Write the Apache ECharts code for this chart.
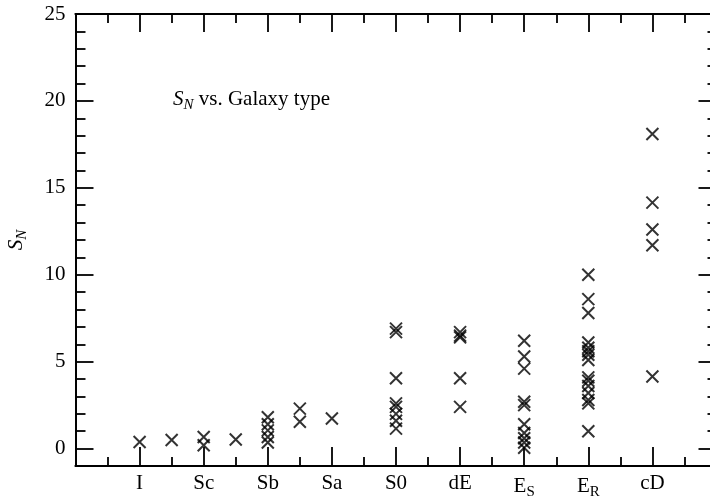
<!DOCTYPE html>
<html>
<head>
<meta charset="utf-8">
<script src="https://cdn.jsdelivr.net/npm/echarts@6/dist/echarts.min.js"></script>
<style>html,body{margin:0;padding:0;background:#fff}#c{width:710px;height:496px}</style>
</head>
<body>
<div id="c"></div>
<script>
// Categories on the x axis (positions 1..9)
const categories = ['I', 'Sc', 'Sb', 'Sa', 'S0', 'dE', 'E_S', 'E_R', 'cD'];
const categoryPositions = [1, 2, 3, 4, 5, 6, 7, 8, 9];

// Tick values
const yMajorTicks = [0, 5, 10, 15, 20, 25];
const yMinorTicks = [1, 2, 3, 4, 6, 7, 8, 9, 11, 12, 13, 14, 16, 17, 18, 19, 21, 22, 23, 24];
const xMajorTicks = [1, 2, 3, 4, 5, 6, 7, 8, 9];
const xMinorTicks = [0.5, 1.5, 2.5, 3.5, 4.5, 5.5, 6.5, 7.5, 8.5, 9.5];

// S_N values per galaxy-type column (x position, values)
const xI = 1,    valI = [0.38];
const xISc = 1.5, valISc = [0.5];
const xSc = 2,   valSc = [0.67, 0.19];
const xScSb = 2.5, valScSb = [0.52];
const xSb = 3,   valSb = [1.8, 1.4, 1.05, 0.67, 0.35];
const xSbSa = 3.5, valSbSa = [2.3, 1.55];
const xSa = 4,   valSa = [1.73];
const xS0 = 5,   valS0 = [6.9, 6.7, 4.05, 2.6, 2.4, 2.0, 1.6, 1.15];
const xdE = 6,   valdE = [6.7, 6.5, 6.4, 4.05, 2.4];
const xES = 7,   valES = [6.2, 5.3, 4.6, 2.7, 2.5, 1.4, 0.9, 0.6, 0.35, 0.05];
const xER = 8,   valER = [10.0, 8.6, 7.8, 6.1, 5.8, 5.6, 5.4, 5.1, 4.1, 3.9, 3.6, 3.2, 2.8, 2.6, 1.0];
const xcD = 9,   valcD = [18.1, 14.15, 12.6, 11.7, 4.15];

const columns = [
  [xI, valI], [xISc, valISc], [xSc, valSc], [xScSb, valScSb], [xSb, valSb],
  [xSbSa, valSbSa], [xSa, valSa], [xS0, valS0], [xdE, valdE], [xES, valES],
  [xER, valER], [xcD, valcD]
];
const points = [];
columns.forEach(([x, vals]) => vals.forEach(v => points.push([x, v])));

const FONT = '"Liberation Serif", "Times New Roman", serif';
const FS = 21;
const SUB = 15;
const lineStyle = { color: '#000', width: 1.8 };

function catLabel(v) {
  const idx = categoryPositions.indexOf(v);
  if (idx < 0) return '';
  const c = categories[idx];
  if (c.indexOf('_') >= 0) {
    const p = c.split('_');
    return '{m|' + p[0] + '}{s|' + p[1] + '}';
  }
  return '{m|' + c + '}';
}

const labelRich = {
  m: { fontFamily: FONT, fontSize: FS, color: '#000' },
  s: { fontFamily: FONT, fontSize: SUB, color: '#000', verticalAlign: 'bottom', padding: [12, 0, 0, 0] }
};

function xAx(pos, ticks, len, labels) {
  return {
    type: 'value', position: pos, min: 0, max: 10,
    axisLine: { show: true, onZero: false, lineStyle },
    axisTick: { show: true, inside: true, length: len, customValues: ticks, lineStyle },
    axisLabel: labels ? {
      show: true, customValues: xMajorTicks, margin: 7, formatter: catLabel,
      rich: labelRich, fontFamily: FONT, fontSize: FS, color: '#000'
    } : { show: false },
    splitLine: { show: false }
  };
}
function yAx(pos, ticks, len, labels, name) {
  const a = {
    type: 'value', position: pos, min: -1, max: 25,
    axisLine: { show: true, onZero: false, lineStyle },
    axisTick: { show: true, inside: true, length: len, customValues: ticks, lineStyle },
    axisLabel: labels ? {
      show: true, customValues: yMajorTicks, margin: 10,
      fontFamily: FONT, fontSize: FS, color: '#000'
    } : { show: false },
    splitLine: { show: false }
  };
  if (name) {
    a.name = '{i|S}{s|N}';
    a.nameLocation = 'middle';
    a.nameGap = 46;
    a.nameRotate = 90;
    a.nameTextStyle = {
      rich: {
        i: { fontFamily: FONT, fontSize: FS, fontStyle: 'italic', color: '#000' },
        s: { fontFamily: FONT, fontSize: SUB, fontStyle: 'italic', color: '#000', verticalAlign: 'bottom', padding: [12, 0, 0, 0] }
      }
    };
  }
  return a;
}

const chart = echarts.init(document.getElementById('c'), null, { renderer: 'canvas' });
chart.setOption({
  animation: false,
  backgroundColor: '#fff',
  grid: { left: 75.5, top: 14, right: -6.5, bottom: 30, containLabel: false, outerBoundsMode: 'none' },
  xAxis: [
    xAx('bottom', xMajorTicks, 19, true),
    xAx('bottom', xMinorTicks, 9, false),
    xAx('top', xMajorTicks, 18, false),
    xAx('top', xMinorTicks, 9, false)
  ],
  yAxis: [
    yAx('left', yMajorTicks, 18, true, true),
    yAx('left', yMinorTicks, 10, false, false),
    yAx('right', yMajorTicks, 18, false, false),
    yAx('right', yMinorTicks, 9, false, false)
  ],
  graphic: [{
    type: 'text', left: 173, top: 89,
    style: {
      text: '{i|S}{s|N}{m| vs. Galaxy type}',
      rich: {
        i: { fontFamily: FONT, fontSize: FS, fontStyle: 'italic', fill: '#000', color: '#000' },
        s: { fontFamily: FONT, fontSize: SUB, fontStyle: 'italic', fill: '#000', color: '#000', verticalAlign: 'bottom', padding: [12, 0, 0, 0] },
        m: { fontFamily: FONT, fontSize: FS, fill: '#000', color: '#000' }
      }
    }
  }],
  series: [{
    type: 'scatter',
    xAxisIndex: 0, yAxisIndex: 0,
    data: points,
    symbol: 'path://M0,0L10,10M10,0L0,10',
    symbolSize: 12,
    itemStyle: { color: 'rgba(0,0,0,0)', borderColor: '#000', borderWidth: 2 }
  }]
});
</script>
</body>
</html>
